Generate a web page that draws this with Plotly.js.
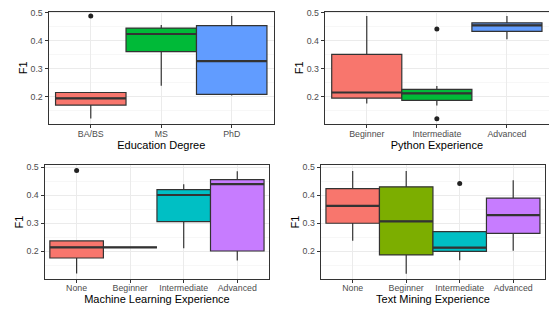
<!DOCTYPE html>
<html>
<head>
<meta charset="utf-8">
<script src="https://cdn.plot.ly/plotly-3.0.1.min.js"></script>
<style>html,body{margin:0;padding:0;background:#fff}#chart{width:549px;height:312px}</style>
</head>
<body>
<div id="chart"></div>
<script>
// ---- Panel 1: Education Degree ----
const eduCats = ['BA/BS', 'MS', 'PhD'];
const eduQ1  = [0.170, 0.361, 0.208];
const eduMed = [0.194, 0.424, 0.327];
const eduQ3  = [0.215, 0.445, 0.454];
const eduLo  = [0.122, 0.239, 0.204];
const eduHi  = [0.215, 0.456, 0.488];
const eduOutX = ['BA/BS'];
const eduOutY = [0.488];

// ---- Panel 2: Python Experience ----
const pyCats = ['Beginner', 'Intermediate', 'Advanced'];
const pyQ1  = [0.195, 0.187, 0.433];
const pyMed = [0.215, 0.212, 0.455];
const pyQ3  = [0.351, 0.226, 0.464];
const pyLo  = [0.176, 0.169, 0.405];
const pyHi  = [0.488, 0.238, 0.488];
const pyOutX = ['Intermediate', 'Intermediate'];
const pyOutY = [0.442, 0.121];

// ---- Panel 3: Machine Learning Experience ----
const mlCats = ['None', 'Beginner', 'Intermediate', 'Advanced'];
const mlQ1  = [0.176, 0.214, 0.306, 0.201];
const mlMed = [0.214, 0.214, 0.401, 0.440];
const mlQ3  = [0.237, 0.214, 0.420, 0.456];
const mlLo  = [0.121, 0.214, 0.211, 0.167];
const mlHi  = [0.237, 0.214, 0.439, 0.486];
const mlOutX = ['None'];
const mlOutY = [0.488];

// ---- Panel 4: Text Mining Experience ----
const tmCats = ['None', 'Beginner', 'Intermediate', 'Advanced'];
const tmQ1  = [0.300, 0.187, 0.200, 0.264];
const tmMed = [0.362, 0.307, 0.213, 0.329];
const tmQ3  = [0.424, 0.430, 0.270, 0.390];
const tmLo  = [0.238, 0.120, 0.168, 0.202];
const tmHi  = [0.487, 0.487, 0.270, 0.454];
const tmOutX = ['Intermediate'];
const tmOutY = [0.442];

const colors3 = ['#F8766D', '#00BA38', '#619CFF'];
const colors4 = ['#F8766D', '#7CAE00', '#00BFC4', '#C77CFF'];

const panels = [
  {cats: eduCats, q1: eduQ1, med: eduMed, q3: eduQ3, lo: eduLo, hi: eduHi, ox: eduOutX, oy: eduOutY, colors: colors3, title: 'Education Degree'},
  {cats: pyCats, q1: pyQ1, med: pyMed, q3: pyQ3, lo: pyLo, hi: pyHi, ox: pyOutX, oy: pyOutY, colors: colors3, title: 'Python Experience'},
  {cats: mlCats, q1: mlQ1, med: mlMed, q3: mlQ3, lo: mlLo, hi: mlHi, ox: mlOutX, oy: mlOutY, colors: colors4, title: 'Machine Learning Experience'},
  {cats: tmCats, q1: tmQ1, med: tmMed, q3: tmQ3, lo: tmLo, hi: tmHi, ox: tmOutX, oy: tmOutY, colors: colors4, title: 'Text Mining Experience'}
];

const W = 549, H = 312;
const geom = [
  {x: [48.5, 274.0], y: [11.7, 123.7], yr: [0.1036, 0.5036], ls: -1},
  {x: [324.7, 549.0], y: [11.7, 123.7], yr: [0.1036, 0.5036], ls: -1},
  {x: [44.5, 269.4], y: [165.3, 279.0], yr: [0.101, 0.507], ls: -3},
  {x: [320.6, 545.3], y: [165.3, 279.0], yr: [0.101, 0.507], ls: -3}
];

const FONT = 'Liberation Sans, Arial, Helvetica, sans-serif';
const traces = [];
const shapes = [];
const layout = {
  width: W, height: H,
  margin: {l: 0, r: 0, t: 0, b: 0},
  paper_bgcolor: '#ffffff',
  plot_bgcolor: '#ffffff',
  showlegend: false,
  boxmode: 'overlay',
  font: {family: FONT, color: '#4D4D4D', size: 9},
  shapes: shapes
};

panels.forEach((p, k) => {
  const sfx = k === 0 ? '' : String(k + 1);
  const xa = 'x' + sfx, ya = 'y' + sfx;
  p.cats.forEach((c, i) => {
    traces.push({
      type: 'box',
      x: [c],
      q1: [p.q1[i]], median: [p.med[i]], q3: [p.q3[i]],
      lowerfence: [p.lo[i]], upperfence: [p.hi[i]],
      width: 1,
      whiskerwidth: 0,
      fillcolor: p.colors[i],
      line: {color: '#333333', width: 1.2},
      boxpoints: false,
      xaxis: xa, yaxis: ya,
      hoverinfo: 'skip'
    });
    shapes.push({
      type: 'line', xref: xa, yref: ya,
      x0: i - 0.5, x1: i + 0.5, y0: p.med[i], y1: p.med[i],
      line: {color: '#333333', width: 2.2}, layer: 'above'
    });
  });
  traces.push({
    type: 'scatter', mode: 'markers',
    x: p.ox, y: p.oy,
    marker: {color: '#222222', size: 5},
    xaxis: xa, yaxis: ya, hoverinfo: 'skip'
  });
  const g = geom[k];
  layout['xaxis' + sfx] = {
    domain: [g.x[0] / W, g.x[1] / W],
    anchor: ya,
    type: 'category',
    categoryorder: 'array', categoryarray: p.cats,
    range: [-0.6, p.cats.length - 0.4],
    showgrid: true, gridcolor: '#EBEBEB', gridwidth: 1,
    zeroline: false,
    showline: true, linecolor: '#333333', linewidth: 1, mirror: true,
    ticks: 'outside', ticklen: 3, tickcolor: '#333333', tickwidth: 1,
    ticklabelstandoff: g.ls,
    tickfont: {family: FONT, size: 8.8, color: '#4D4D4D'},
    title: {text: p.title, font: {family: FONT, size: 11, color: '#000000'}, standoff: 2},
    fixedrange: true
  };
  layout['yaxis' + sfx] = {
    domain: [1 - g.y[1] / H, 1 - g.y[0] / H],
    anchor: xa,
    range: g.yr,
    tickvals: [0.2, 0.3, 0.4, 0.5],
    ticktext: ['0.2', '0.3', '0.4', '0.5'],
    showgrid: true, gridcolor: '#EBEBEB', gridwidth: 1,
    minor: {tickvals: [0.15, 0.25, 0.35, 0.45], showgrid: true, gridcolor: '#F2F2F2', gridwidth: 0.6, ticks: ''},
    zeroline: false,
    showline: true, linecolor: '#333333', linewidth: 1, mirror: true,
    ticks: 'outside', ticklen: 3, tickcolor: '#333333', tickwidth: 1,
    tickfont: {family: FONT, size: 8.8, color: '#4D4D4D'},
    title: {text: 'F1', font: {family: FONT, size: 11, color: '#000000'}, standoff: 0},
    fixedrange: true
  };
});

Plotly.newPlot('chart', traces, layout, {staticPlot: true, displayModeBar: false});
</script>
</body>
</html>
